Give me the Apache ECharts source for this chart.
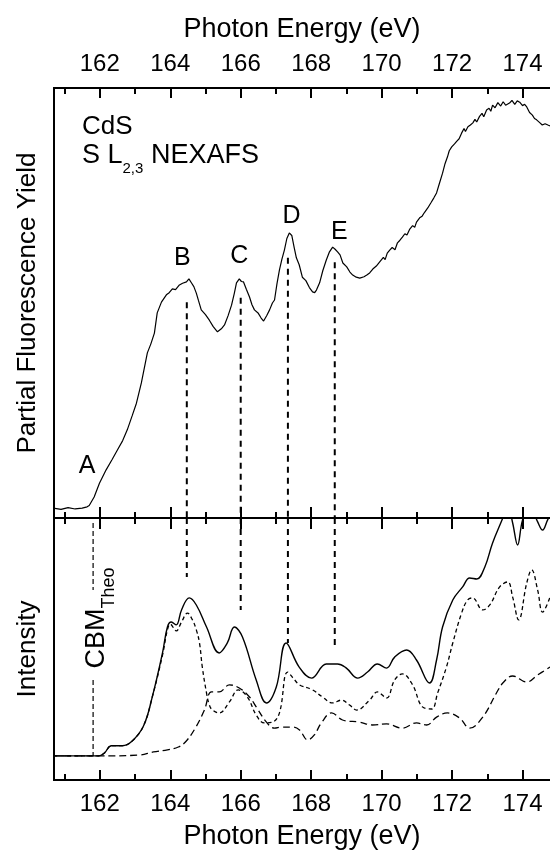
<!DOCTYPE html>
<html><head><meta charset="utf-8">
<script src="https://cdn.jsdelivr.net/npm/echarts@6/dist/echarts.min.js"></script>
<style>html,body{margin:0;padding:0;background:#fff}#c{width:550px;height:855px}</style>
</head><body><div id="c"></div>
<script>
// ---------- data ----------
const X_MIN = 160.7, X_MAX = 174.78;
const majorTicks = [162, 164, 166, 168, 170, 172, 174];
const minorTicks = [161, 163, 165, 167, 169, 171, 173];

// Partial fluorescence yield (top panel), [eV, a.u.]
const pfy = [[160.68,2.3],[160.9,2.0],[161.1,2.4],[161.3,2.1],[161.5,2.3],[161.64,2.6],[161.70,2.9],[161.84,4.9],[161.99,8.1],[162.18,11.2],[162.35,13.6],[162.50,15.8],[162.65,18.0],[162.78,20.5],[162.92,23.8],[163.04,26.7],[163.18,31.4],[163.35,38.4],[163.45,40.5],[163.55,43.0],[163.63,47.7],[163.75,50.2],[163.89,51.9],[163.97,52.4],[164.06,53.3],[164.15,53.1],[164.26,54.2],[164.35,54.6],[164.46,54.9],[164.53,55.6],[164.60,54.7],[164.67,53.8],[164.74,52.3],[164.80,50.6],[164.88,48.4],[165.0,47.3],[165.11,46.0],[165.22,44.5],[165.34,43.3],[165.45,44.0],[165.54,44.9],[165.64,47.0],[165.74,49.5],[165.82,52.3],[165.88,54.7],[165.96,55.6],[166.02,55.0],[166.08,54.9],[166.16,53.2],[166.25,51.4],[166.32,49.6],[166.39,48.4],[166.5,47.6],[166.58,46.5],[166.65,45.8],[166.74,47.1],[166.82,48.4],[166.9,50.0],[166.96,50.7],[167.03,54.5],[167.10,57.7],[167.17,60.2],[167.24,62.3],[167.31,65.0],[167.38,66.3],[167.45,65.7],[167.52,62.8],[167.58,60.5],[167.66,58.9],[167.75,56.0],[167.85,55.2],[167.95,53.6],[168.04,52.6],[168.10,52.4],[168.15,53.0],[168.24,54.7],[168.33,57.5],[168.43,60.0],[168.52,61.9],[168.61,63.0],[168.68,62.5],[168.75,61.9],[168.82,61.2],[168.90,59.3],[169.01,58.4],[169.10,57.2],[169.18,56.5],[169.28,56.0],[169.38,55.8],[169.50,56.1],[169.58,56.5],[169.66,57.0],[169.75,57.9],[169.85,58.6],[169.94,59.5],[170.05,60.6],[170.10,60.1],[170.16,61.6],[170.23,62.3],[170.30,62.9],[170.38,62.4],[170.45,64.0],[170.52,64.6],[170.59,65.3],[170.66,66.1],[170.72,65.8],[170.80,67.2],[170.88,68.0],[170.94,67.6],[170.99,68.8],[171.08,69.8],[171.15,70.2],[171.22,71.1],[171.31,72.1],[171.40,73.3],[171.48,74.4],[171.56,75.6],[171.64,77.8],[171.73,80.2],[171.80,82.4],[171.87,84.0],[171.92,85.4],[171.99,86.3],[172.07,87.0],[172.13,87.6],[172.20,88.2],[172.27,89.5],[172.34,90.6],[172.38,89.9],[172.45,91.0],[172.52,91.4],[172.59,91.9],[172.65,92.7],[172.70,92.1],[172.78,93.4],[172.85,94.1],[172.90,93.3],[172.98,94.9],[173.05,95.3],[173.10,94.6],[173.15,96.0],[173.22,95.4],[173.30,96.6],[173.38,95.8],[173.45,96.8],[173.52,96.0],[173.63,96.5],[173.70,97.1],[173.78,96.2],[173.85,97.0],[173.92,96.7],[174.00,95.9],[174.06,96.2],[174.12,95.6],[174.20,94.3],[174.28,93.7],[174.34,92.9],[174.40,92.6],[174.48,92.0],[174.56,91.4],[174.64,91.7],[174.72,91.4],[174.78,91.2]];

// Calculated spectra (bottom panel)
const total = [[160.68,9.2],[161.96,9.2],[162.13,10.3],[162.33,13.1],[162.64,13.1],[162.92,14.9],[163.24,20.6],[163.49,31.7],[163.78,48.5],[163.92,58.4],[164.03,60.3],[164.17,59.2],[164.32,64.9],[164.54,69.5],[164.74,66.8],[165.03,58.4],[165.39,48.5],[165.62,52.3],[165.82,58.4],[166.05,54.6],[166.44,38.2],[166.73,29.4],[167.01,35.5],[167.29,52.3],[167.66,43.1],[168.01,38.9],[168.43,44.3],[168.75,44.3],[169.00,42.7],[169.32,38.9],[169.60,41.2],[169.88,44.3],[170.14,42.7],[170.37,46.9],[170.71,49.6],[170.99,45.8],[171.36,37.0],[171.56,45.8],[171.73,58.4],[172.02,68.7],[172.30,73.7],[172.50,77.1],[172.70,76.7],[172.93,81.3],[173.15,90.5],[173.44,100],[173.58,105],[173.72,98.1],[173.86,89.7],[174.00,99.2],[174.20,105],[174.43,98.5],[174.57,95.4],[174.71,99.2],[174.78,101]];
const partA = [[160.68,9.2],[161.96,9.2],[162.13,10.3],[162.33,13.1],[162.64,13.1],[162.92,14.9],[163.24,20.6],[163.49,31.7],[163.78,47.7],[163.92,57.3],[164.0,59.5],[164.17,56.9],[164.32,60.3],[164.49,63.7],[164.63,61.1],[164.74,57.3],[164.83,52.3],[164.91,43.1],[165.03,33.2],[165.11,28.6],[165.20,26.7],[165.39,25.6],[165.68,29.8],[165.93,34.4],[166.19,31.7],[166.44,24.8],[166.67,21.8],[166.90,22.1],[167.10,25.6],[167.33,41.2],[167.53,38.2],[167.67,36.3],[168.04,34.4],[168.32,31.7],[168.61,29.4],[168.86,30.5],[169.09,28.6],[169.29,26.7],[169.66,30.5],[169.88,33.6],[170.14,31.3],[170.37,38.2],[170.59,40.5],[170.88,36.3],[171.16,27.9],[171.42,27.1],[171.59,33.2],[171.84,43.1],[172.02,52.3],[172.27,63.7],[172.44,68.7],[172.58,69.5],[172.87,64.9],[173.07,66.8],[173.35,73.7],[173.58,75.6],[173.72,69.8],[173.89,61.1],[174.12,75.2],[174.26,80.2],[174.43,72.5],[174.57,64.1],[174.78,69.8]];
const partB = [[160.68,9.2],[161.93,9.2],[163.12,9.5],[163.52,10.7],[163.92,11.5],[164.23,12.6],[164.43,14.5],[164.71,19.8],[164.97,26.7],[165.17,33.6],[165.39,33.6],[165.68,36.3],[165.96,35.1],[166.25,31.7],[166.44,27.9],[166.73,22.1],[166.96,19.8],[167.16,20.2],[167.47,20.2],[167.67,19.1],[167.90,15.3],[168.09,17.2],[168.29,21.8],[168.58,25.6],[168.89,22.9],[169.37,22.1],[169.74,21.0],[170.14,21.4],[170.59,19.8],[170.99,21.8],[171.28,21.0],[171.56,24.0],[171.87,25.6],[172.21,23.7],[172.50,19.8],[172.87,24.0],[173.26,33.2],[173.44,37.0],[173.72,39.7],[174.12,37.4],[174.43,40.1],[174.78,43.1]];

// Peak markers
const peakLabels = ['A', 'B', 'C', 'D', 'E'];
const peakLabelPos = [[161.64,12.1],[164.34,60.5],[165.96,60.9],[167.44,70.2],[168.80,66.5]];
const peakLineEnergy = [164.47, 166.0, 167.34, 168.67];
const peakLineTopStart = [50.2, 51.2, 60.5, 59.5];
const peakLineBottomEnd = [77.5, 64.9, 52.3, 49.6];
const cbmEnergy = 161.81;
const cbmSegments = [[98.1, 72.5], [38.2, 9.2]];

// ---------- chart ----------
const FONT = 'Liberation Sans, Arial, sans-serif';
const chart = echarts.init(document.getElementById('c'), null, {renderer: 'canvas'});

function xAx(grid, pos, ticks, len, extra) {
  return Object.assign({
    type: 'value', gridIndex: grid, position: pos, min: X_MIN, max: X_MAX,
    axisLine: {show: true, onZero: false, lineStyle: {color: '#000', width: 2}},
    axisTick: {show: true, inside: true, length: len, customValues: ticks, lineStyle: {color: '#000', width: 2}},
    axisLabel: {show: false},
    splitLine: {show: false}
  }, extra || {});
}
const labelStyle = {show: true, customValues: majorTicks, color: '#000', fontSize: 24, fontFamily: FONT, margin: 12};
const nameStyle = {color: '#000', fontSize: 27, fontFamily: FONT};
const yNameStyle = {color: '#000', fontSize: 26, fontFamily: FONT};

const series = [];
series.push({type: 'line', xAxisIndex: 0, yAxisIndex: 0, data: pfy, showSymbol: false, symbol: 'none',
  lineStyle: {color: '#000', width: 1.2}});
series.push({type: 'line', xAxisIndex: 4, yAxisIndex: 1, data: total, smooth: 0.4, symbol: 'none',
  lineStyle: {color: '#000', width: 1.4}});
series.push({type: 'line', xAxisIndex: 4, yAxisIndex: 1, data: partA, smooth: 0.4, symbol: 'none',
  lineStyle: {color: '#000', width: 1.3, type: [4, 3]}});
series.push({type: 'line', xAxisIndex: 4, yAxisIndex: 1, data: partB, smooth: 0.4, symbol: 'none',
  lineStyle: {color: '#000', width: 1.3, type: [7, 4]}});
peakLineEnergy.forEach((e, i) => {
  series.push({type: 'line', xAxisIndex: 0, yAxisIndex: 0, symbol: 'none', data: [[e, peakLineTopStart[i]], [e, 0]],
    lineStyle: {color: '#000', width: 2, type: [6, 5]}});
  series.push({type: 'line', xAxisIndex: 4, yAxisIndex: 1, symbol: 'none', data: [[e, 100], [e, peakLineBottomEnd[i]]],
    lineStyle: {color: '#000', width: 2, type: [6, 5]}});
});
cbmSegments.forEach(seg => {
  series.push({type: 'line', xAxisIndex: 4, yAxisIndex: 1, symbol: 'none', data: [[cbmEnergy, seg[0]], [cbmEnergy, seg[1]]],
    lineStyle: {color: '#000', width: 1.2, type: [5, 3]}});
});
series.push({type: 'scatter', xAxisIndex: 0, yAxisIndex: 0, symbolSize: 0, itemStyle: {color: '#000'},
  data: peakLabels.map((n, i) => ({name: n, value: peakLabelPos[i]})),
  label: {show: true, position: 'inside', formatter: p => p.name, color: '#000', textBorderWidth: 0, opacity: 1,
          fontSize: 25, fontFamily: FONT}});

chart.setOption({
  animation: false,
  backgroundColor: '#fff',
  grid: [
    {left: 54, right: 0, top: 88, height: 430},
    {left: 54, right: 0, top: 518, height: 262}
  ],
  xAxis: [
    xAx(0, 'top', majorTicks, 10, {axisLabel: labelStyle, name: 'Photon Energy (eV)', nameLocation: 'middle', nameGap: 45, nameTextStyle: nameStyle}),
    xAx(0, 'top', minorTicks, 6),
    xAx(0, 'bottom', majorTicks, 11),
    xAx(0, 'bottom', minorTicks, 6),
    xAx(1, 'top', majorTicks, 11),
    xAx(1, 'top', minorTicks, 6),
    xAx(1, 'bottom', majorTicks, 10, {axisLabel: labelStyle, name: 'Photon Energy (eV)', nameLocation: 'middle', nameGap: 43, nameTextStyle: nameStyle}),
    xAx(1, 'bottom', minorTicks, 6)
  ],
  yAxis: [
    {type: 'value', gridIndex: 0, min: 0, max: 100, axisLine: {show: true, lineStyle: {color: '#000', width: 2}},
     axisTick: {show: false}, axisLabel: {show: false}, splitLine: {show: false},
     name: 'Partial Fluorescence Yield', nameLocation: 'middle', nameRotate: 90, nameGap: 13, nameTextStyle: yNameStyle},
    {type: 'value', gridIndex: 1, min: 0, max: 100, axisLine: {show: true, lineStyle: {color: '#000', width: 2}},
     axisTick: {show: false}, axisLabel: {show: false}, splitLine: {show: false},
     name: 'Intensity', nameLocation: 'middle', nameRotate: 90, nameGap: 13, nameTextStyle: yNameStyle}
  ],
  graphic: [
    {type: 'text', left: 82, top: 114, style: {text: 'CdS', fill: '#000', font: '26px ' + FONT}},
    {type: 'text', left: 82, top: 142, style: {
      text: '{m|S L}{s|2,3}{m| NEXAFS}', fill: '#000',
      rich: {m: {fontSize: 27, fontFamily: FONT, fill: '#000', padding: [0, 0, 7, 0], verticalAlign: 'bottom'},
             s: {fontSize: 15, fontFamily: FONT, fill: '#000', verticalAlign: 'bottom'}}}},
    {type: 'text', x: 101, y: 618, rotation: Math.PI / 2, z: 100, style: {
      text: '{m|CBM}{s|Theo}', align: 'center', verticalAlign: 'middle', fill: '#000',
      rich: {m: {fontSize: 27, fontFamily: FONT, fill: '#000', padding: [0, 0, 8, 0], verticalAlign: 'bottom'},
             s: {fontSize: 18, fontFamily: FONT, fill: '#000', verticalAlign: 'bottom'}}}}
  ],
  series: series
});
</script></body></html>
